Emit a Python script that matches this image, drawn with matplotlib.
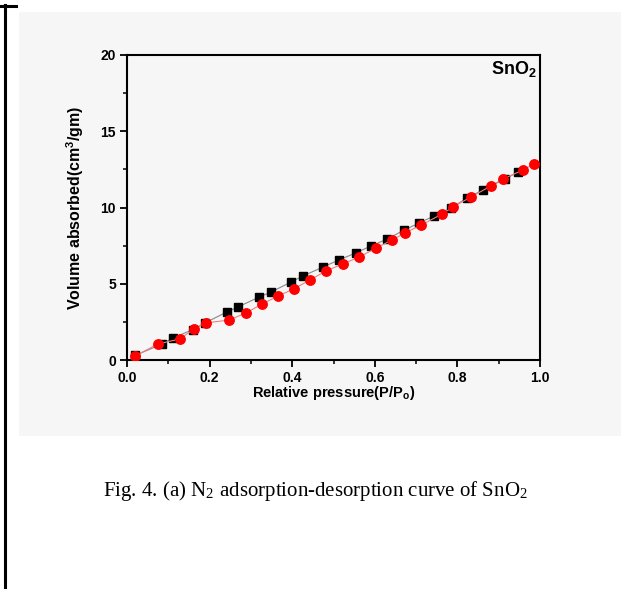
import matplotlib
matplotlib.use("Agg")
import matplotlib.pyplot as plt
from matplotlib.patches import Rectangle
from matplotlib.lines import Line2D
from matplotlib.ticker import MultipleLocator

plt.rcParams["mathtext.fontset"] = "custom"
plt.rcParams["mathtext.rm"] = "Liberation Sans"
plt.rcParams["mathtext.bf"] = "Liberation Sans:bold"

# Adsorption (black squares)
ads_x = [0.02, 0.085, 0.111, 0.16, 0.19, 0.242, 0.269, 0.320, 0.349, 0.397, 0.426, 0.475,
         0.513, 0.554, 0.591, 0.630, 0.671, 0.707, 0.743, 0.785, 0.823, 0.862, 0.915, 0.947]
ads_y = [0.30, 1.05, 1.44, 2.00, 2.45, 3.15, 3.48, 4.13, 4.46, 5.11, 5.51, 6.10,
         6.56, 7.02, 7.48, 7.93, 8.52, 8.98, 9.44, 9.97, 10.62, 11.15, 11.87, 12.33]

# Desorption (red circles)
des_x = [0.019, 0.075, 0.128, 0.162, 0.191, 0.247, 0.288, 0.327, 0.366, 0.404, 0.443, 0.482,
         0.523, 0.562, 0.603, 0.642, 0.673, 0.712, 0.763, 0.789, 0.833, 0.881, 0.910, 0.959, 0.985]
des_y = [0.26, 1.05, 1.38, 2.03, 2.43, 2.62, 3.08, 3.67, 4.20, 4.66, 5.25, 5.84,
         6.30, 6.75, 7.34, 7.87, 8.33, 8.85, 9.57, 10.03, 10.69, 11.41, 11.87, 12.46, 12.85]

x_ticks = [0.0, 0.2, 0.4, 0.6, 0.8, 1.0]
x_tick_labels = ["0.0", "0.2", "0.4", "0.6", "0.8", "1.0"]
y_ticks = [0, 5, 10, 15, 20]
y_tick_labels = ["0", "5", "10", "15", "20"]

W, H = 621, 589
fig = plt.figure(figsize=(W / 100, H / 100), dpi=100)
fig.patch.set_facecolor("white")

# light gray image background
bg = "#f6f6f6"
fig.add_artist(Rectangle((19 / W, 1 - 436 / H), (W - 19) / W, (436 - 12) / H,
                         transform=fig.transFigure, facecolor=bg, edgecolor="none", zorder=0))
# page border lines
fig.add_artist(Line2D([5 / W, 5 / W], [1 - 5 / H, 0], transform=fig.transFigure,
                      color="black", lw=2.2))
fig.add_artist(Line2D([0, 16 / W], [1 - 5.5 / H, 1 - 5.5 / H], transform=fig.transFigure,
                      color="black", lw=2.2))

ax = fig.add_axes([127 / W, 1 - 360 / H, (540 - 127) / W, (360 - 55) / H])
ax.set_facecolor(bg)

ax.plot(ads_x, ads_y, color="#888888", lw=0.8, marker="s", markersize=5.2,
        markerfacecolor="black", markeredgecolor="black", zorder=3)
ax.plot(des_x, des_y, color="#f08080", lw=0.8, marker="o", markersize=6.8,
        markerfacecolor="red", markeredgecolor="red", zorder=4)

ax.set_xlim(0, 1.0)
ax.set_ylim(0, 20)
ax.set_xticks(x_ticks)
ax.set_xticklabels(x_tick_labels, fontsize=10, fontweight="bold", family="Liberation Sans")
ax.set_yticks(y_ticks)
ax.set_yticklabels(y_tick_labels, fontsize=10, fontweight="bold", family="Liberation Sans")
ax.xaxis.set_minor_locator(MultipleLocator(0.1))
ax.yaxis.set_minor_locator(MultipleLocator(2.5))
ax.tick_params(which="major", direction="out", length=5, width=1.3, pad=3)
ax.tick_params(which="minor", direction="out", length=3, width=1.1)
for sp in ax.spines.values():
    sp.set_linewidth(1.5)

ax.set_xlabel("Relative pressure(P/P$_\\mathbf{o}$)", fontsize=10.5, fontweight="bold",
              family="Liberation Sans", labelpad=-1)
ax.set_ylabel("Volume absorbed(cm$^\\mathbf{3}$/gm)", fontsize=11.5, fontweight="bold",
              family="Liberation Sans", labelpad=10)

ax.text(0.993, 0.988, "SnO$_\\mathbf{2}$", transform=ax.transAxes, ha="right", va="top",
        fontsize=13, fontweight="bold", family="Liberation Sans")

fig.text(315 / W, 1 - 491 / H,
         "Fig. 4. (a) N$_\\mathregular{2}$ adsorption-desorption curve of SnO$_\\mathregular{2}$",
         ha="center", va="center", fontsize=15, family="Liberation Serif",
         math_fontfamily="stix")

fig.savefig("out.png", dpi=100)
